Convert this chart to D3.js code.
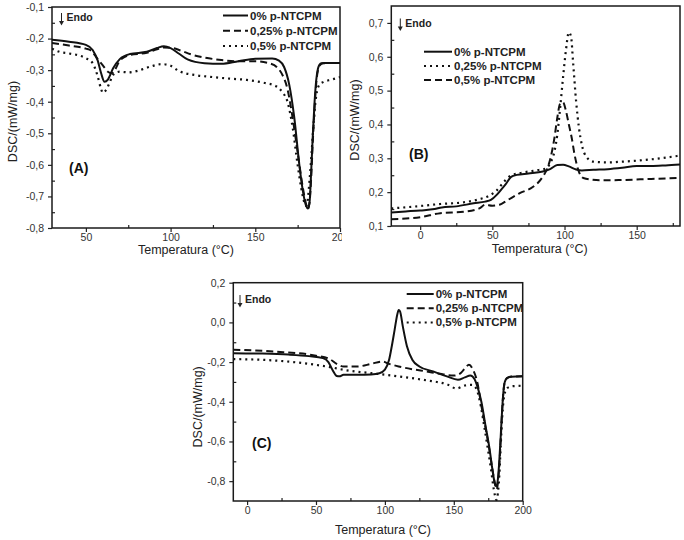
<!DOCTYPE html>
<html>
<head>
<meta charset="utf-8">
<script src="https://cdn.jsdelivr.net/npm/d3@7/dist/d3.min.js"></script>
<style>
  html, body { margin: 0; padding: 0; background: #fff; }
  svg { font-family: "Liberation Sans", Arial, sans-serif; }
  .tick text { fill: #333; font-size: 10.5px; }
  .tick line { stroke: #222; stroke-width: 1.2; }
  .title { fill: #222; font-size: 12.5px; }
  .legend { fill: #222; font-size: 11.5px; font-weight: bold; }
</style>
</head>
<body>
<svg id="chart" width="684" height="540"></svg>
<script>
// ---- Panel A ----
const tempA0 = [30, 40, 50, 54, 57, 59, 61, 63, 66, 70, 76, 86, 92, 96, 100, 105, 110, 120, 130, 140, 150, 160, 164, 167, 170, 173, 176, 178, 180, 181, 182, 183, 184, 185, 186, 187, 188, 189, 191, 200];
const dscA0 = [-0.204, -0.210, -0.220, -0.236, -0.270, -0.310, -0.337, -0.330, -0.295, -0.265, -0.249, -0.242, -0.230, -0.224, -0.230, -0.248, -0.266, -0.278, -0.280, -0.272, -0.264, -0.263, -0.270, -0.290, -0.345, -0.450, -0.600, -0.680, -0.730, -0.738, -0.720, -0.620, -0.500, -0.400, -0.330, -0.295, -0.282, -0.278, -0.277, -0.277];
const tempA25 = [30, 40, 50, 53, 57, 60, 63, 65, 67, 70, 76, 86, 92, 96, 100, 106, 112, 120, 130, 140, 150, 158, 163, 166, 169, 172, 175, 178, 180, 181, 182, 183, 184, 185, 186, 187, 188, 190, 200];
const dscA25 = [-0.214, -0.222, -0.232, -0.238, -0.265, -0.285, -0.305, -0.310, -0.300, -0.270, -0.252, -0.245, -0.234, -0.228, -0.229, -0.238, -0.250, -0.260, -0.268, -0.272, -0.272, -0.278, -0.292, -0.315, -0.360, -0.450, -0.560, -0.670, -0.725, -0.740, -0.720, -0.640, -0.520, -0.420, -0.340, -0.300, -0.285, -0.278, -0.277];
const tempA50 = [30, 35, 40, 50, 54, 57, 59, 60, 62, 64, 66, 70, 75, 80, 88, 95, 100, 105, 115, 125, 135, 145, 155, 162, 166, 169, 172, 175, 177, 179, 180, 181, 182, 183, 184, 185, 186, 188, 190, 195, 200];
const dscA50 = [-0.232, -0.243, -0.247, -0.262, -0.278, -0.320, -0.360, -0.372, -0.362, -0.340, -0.315, -0.305, -0.307, -0.303, -0.289, -0.281, -0.286, -0.303, -0.316, -0.322, -0.327, -0.331, -0.340, -0.350, -0.370, -0.400, -0.480, -0.600, -0.670, -0.720, -0.730, -0.710, -0.650, -0.580, -0.500, -0.430, -0.380, -0.345, -0.338, -0.330, -0.322];

// ---- Panel B ----
const tempB0 = [-20, -10, 0, 10, 15, 25, 37, 45, 49, 53, 56, 59, 63, 67, 75, 85, 90, 95, 99, 103, 108, 112, 120, 130, 140, 150, 160, 170, 180];
const dscB0 = [0.140, 0.143, 0.146, 0.150, 0.155, 0.158, 0.167, 0.172, 0.177, 0.192, 0.207, 0.222, 0.245, 0.251, 0.255, 0.261, 0.268, 0.280, 0.281, 0.276, 0.267, 0.264, 0.266, 0.268, 0.272, 0.277, 0.277, 0.279, 0.282];
const tempB25 = [-20, 0, 14, 30, 40, 48, 53, 57, 62, 71, 80, 87, 90, 93, 95, 97, 99, 101, 103, 104.5, 106, 108, 110, 112, 115, 120, 130, 140, 160, 180];
const dscB25 = [0.152, 0.159, 0.165, 0.170, 0.178, 0.190, 0.205, 0.225, 0.247, 0.258, 0.264, 0.270, 0.285, 0.320, 0.370, 0.450, 0.540, 0.620, 0.672, 0.660, 0.580, 0.470, 0.390, 0.340, 0.305, 0.290, 0.288, 0.290, 0.297, 0.308];
const tempB50 = [-20, 0, 14, 30, 41, 45, 50, 55, 60, 69, 78, 84, 88, 90, 93, 95, 97, 99, 101, 103, 105, 107, 110, 113, 125, 140, 160, 180];
const dscB50 = [0.120, 0.126, 0.138, 0.142, 0.152, 0.163, 0.160, 0.163, 0.175, 0.197, 0.215, 0.240, 0.270, 0.296, 0.360, 0.420, 0.462, 0.465, 0.440, 0.400, 0.360, 0.310, 0.260, 0.242, 0.235, 0.236, 0.239, 0.242];

// ---- Panel C ----
const tempC0 = [-10, 10, 30, 45, 55, 59, 62, 65, 67, 70, 80, 90, 96, 100, 103, 105, 107, 109, 110, 111, 113, 116, 120, 125, 135, 145, 153, 158, 162, 165, 167, 170, 173, 176, 178, 180, 181, 182, 183, 184, 185, 186, 187, 189, 192, 200];
const dscC0 = [-0.155, -0.157, -0.162, -0.170, -0.180, -0.200, -0.240, -0.270, -0.272, -0.264, -0.264, -0.262, -0.256, -0.238, -0.190, -0.120, -0.040, 0.040, 0.063, 0.055, -0.020, -0.120, -0.190, -0.222, -0.247, -0.272, -0.289, -0.277, -0.267, -0.285, -0.320, -0.400, -0.520, -0.640, -0.740, -0.817, -0.825, -0.790, -0.700, -0.580, -0.450, -0.350, -0.300, -0.278, -0.274, -0.272];
const tempC25 = [-10, 20, 50, 60, 65, 70, 80, 90, 98, 103, 110, 120, 130, 140, 150, 155, 158, 161, 164, 167, 170, 173, 176, 178, 180, 181, 182, 183, 184, 185, 186, 187, 189, 192, 200];
const dscC25 = [-0.138, -0.147, -0.168, -0.185, -0.209, -0.222, -0.222, -0.209, -0.197, -0.209, -0.222, -0.236, -0.247, -0.259, -0.268, -0.256, -0.232, -0.214, -0.240, -0.300, -0.420, -0.530, -0.650, -0.740, -0.817, -0.842, -0.810, -0.725, -0.600, -0.457, -0.350, -0.300, -0.280, -0.273, -0.272];
const tempC50 = [-10, 20, 50, 60, 70, 90, 110, 130, 145, 152, 158, 163, 166, 169, 172, 175, 177, 179, 181, 182, 183, 184, 185, 186, 187, 189, 192, 200];
const dscC50 = [-0.185, -0.192, -0.214, -0.225, -0.239, -0.256, -0.272, -0.292, -0.312, -0.333, -0.318, -0.315, -0.330, -0.400, -0.520, -0.650, -0.740, -0.840, -0.895, -0.860, -0.775, -0.630, -0.490, -0.400, -0.356, -0.330, -0.322, -0.319];

// ---- ticks ----
const xMajorA = [50, 100, 150, 200], xMinorA = [75, 125, 175];
const yMajorA = [-0.8, -0.7, -0.6, -0.5, -0.4, -0.3, -0.2, -0.1];
const yMinorA = [-0.75, -0.65, -0.55, -0.45, -0.35, -0.25, -0.15];
const xMajorB = [0, 50, 100, 150], xMinorB = [-25, 25, 75, 125, 175];
const yMajorB = [0.1, 0.2, 0.3, 0.4, 0.5, 0.6, 0.7];
const yMinorB = [0.15, 0.25, 0.35, 0.45, 0.55, 0.65];
const xMajorC = [0, 50, 100, 150, 200], xMinorC = [25, 75, 125, 175];
const yMajorC = [-0.8, -0.6, -0.4, -0.2, 0.0, 0.2];
const yMinorC = [-0.9, -0.7, -0.5, -0.3, -0.1, 0.1];

const label0 = "0% p-NTCPM", label25 = "0,25% p-NTCPM", label50 = "0,5% p-NTCPM";

const dashes = { solid: null, dashed: "7,4", dotted: "2,4" };

const root = d3.select("#chart");
const fmtDec = v => v.toFixed(1).replace(".", ",");

function drawPanel(p) {
    const svg = root.append("svg")
        .attr("x", p.ox).attr("y", p.oy)
        .attr("width", p.w).attr("height", p.h)
        .attr("overflow", "hidden");

    const x = d3.scaleLinear().domain(p.xDomain).range([p.left, p.right]);
    const y = d3.scaleLinear().domain(p.yDomain).range([p.bottom, p.top]);

    svg.append("clipPath").attr("id", p.id + "-clip")
        .append("rect")
        .attr("x", p.left).attr("y", p.top)
        .attr("width", p.right - p.left).attr("height", p.bottom - p.top);

    // axes: major ticks outward with labels, minor ticks inward
    const gx = svg.append("g").attr("transform", `translate(0,${p.bottom})`)
        .call(d3.axisBottom(x).tickValues(p.xMajor).tickSize(4).tickPadding(2).tickFormat(d3.format("d")));
    gx.select(".domain").remove();
    const gxm = svg.append("g").attr("transform", `translate(0,${p.bottom})`)
        .call(d3.axisBottom(x).tickValues(p.xMinor.filter(v => v > p.xDomain[0] && v < p.xDomain[1])).tickSize(-3).tickFormat(""));
    gxm.select(".domain").remove();

    const gy = svg.append("g").attr("transform", `translate(${p.left},0)`)
        .call(d3.axisLeft(y).tickValues(p.yMajor).tickSize(4).tickPadding(4).tickFormat(fmtDec));
    gy.select(".domain").remove();
    const gym = svg.append("g").attr("transform", `translate(${p.left},0)`)
        .call(d3.axisLeft(y).tickValues(p.yMinor.filter(v => v > p.yDomain[0] && v < p.yDomain[1])).tickSize(-3).tickFormat(""));
    gym.select(".domain").remove();

    // frame
    svg.append("rect")
        .attr("x", p.left).attr("y", p.top)
        .attr("width", p.right - p.left).attr("height", p.bottom - p.top)
        .attr("fill", "none").attr("stroke", "#1a1a1a").attr("stroke-width", 1.5);

    // curves
    const line = d3.line().x(d => x(d[0])).y(d => y(d[1])).curve(d3.curveMonotoneX);
    const curves = svg.append("g").attr("clip-path", `url(#${p.id}-clip)`);
    p.series.forEach(s => {
        curves.append("path")
            .datum(d3.zip(s.t, s.v))
            .attr("d", line)
            .attr("fill", "none")
            .attr("stroke", "#111")
            .attr("stroke-width", s.style === "dotted" ? 2.2 : 2)
            .attr("stroke-dasharray", dashes[s.style]);
    });

    // legend
    const lg = svg.append("g");
    p.series.forEach((s, i) => {
        const ly = p.legend.y + i * p.legend.step;
        lg.append("line")
            .attr("x1", p.legend.x).attr("x2", p.legend.x + p.legend.len)
            .attr("y1", ly).attr("y2", ly)
            .attr("stroke", "#111").attr("stroke-width", 2)
            .attr("stroke-dasharray", dashes[s.style]);
        lg.append("text").attr("class", "legend")
            .attr("x", p.legend.x + p.legend.len + 2).attr("y", ly + 4)
            .text(s.label);
    });

    // Endo arrow
    const ex = p.endo.x, ey = p.endo.y;
    svg.append("line").attr("x1", ex).attr("x2", ex).attr("y1", ey).attr("y2", ey + 10)
        .attr("stroke", "#222").attr("stroke-width", 1);
    svg.append("path").attr("d", `M${ex - 2.5},${ey + 8} L${ex + 2.5},${ey + 8} L${ex},${ey + 12.5} Z`).attr("fill", "#222");
    svg.append("text").attr("x", ex + 5).attr("y", ey + 8)
        .attr("font-size", 10.5).attr("font-weight", "bold").attr("fill", "#222").text("Endo");

    // panel letter
    svg.append("text").attr("x", p.letter.x).attr("y", p.letter.y)
        .attr("font-size", 14).attr("font-weight", "bold").attr("fill", "#111").text(p.letter.text);

    // axis titles
    svg.append("text").attr("class", "title")
        .attr("text-anchor", "middle")
        .attr("x", (p.left + p.right) / 2 + p.xTitleDx).attr("y", p.xTitleY)
        .text("Temperatura (°C)");
    svg.append("text").attr("class", "title")
        .attr("text-anchor", "middle")
        .attr("transform", `translate(${p.yTitleX},${(p.top + p.bottom) / 2 + p.yTitleDy}) rotate(-90)`)
        .text("DSC/(mW/mg)");
}

drawPanel({
    id: "A", ox: 0, oy: 0, w: 342, h: 270,
    left: 52, right: 340, top: 7, bottom: 228,
    xDomain: [30, 200], yDomain: [-0.8, -0.1],
    xMajor: xMajorA, xMinor: xMinorA, yMajor: yMajorA, yMinor: yMinorA,
    series: [
        { t: tempA0, v: dscA0, style: "solid", label: label0 },
        { t: tempA25, v: dscA25, style: "dashed", label: label25 },
        { t: tempA50, v: dscA50, style: "dotted", label: label50 }
    ],
    legend: { x: 223, y: 15.5, step: 15.3, len: 25 },
    endo: { x: 61.5, y: 13 },
    letter: { x: 69, y: 173, text: "(A)" },
    xTitleDx: -10, xTitleY: 254,
    yTitleX: 17, yTitleDy: 4
});

drawPanel({
    id: "B", ox: 342, oy: 0, w: 342, h: 270,
    left: 49.3, right: 338, top: 6, bottom: 226,
    xDomain: [-20, 180], yDomain: [0.1, 0.75],
    xMajor: xMajorB, xMinor: xMinorB, yMajor: yMajorB, yMinor: yMinorB,
    series: [
        { t: tempB0, v: dscB0, style: "solid", label: label0 },
        { t: tempB25, v: dscB25, style: "dotted", label: label25 },
        { t: tempB50, v: dscB50, style: "dashed", label: label50 }
    ],
    legend: { x: 82, y: 51.7, step: 14.2, len: 28 },
    endo: { x: 58.3, y: 18.5 },
    letter: { x: 67, y: 159, text: "(B)" },
    xTitleDx: 4, xTitleY: 253,
    yTitleX: 17, yTitleDy: 4
});

drawPanel({
    id: "C", ox: 170, oy: 270, w: 370, h: 270,
    left: 63.3, right: 352.7, top: 12.7, bottom: 231,
    xDomain: [-10, 200], yDomain: [-0.9, 0.2],
    xMajor: xMajorC, xMinor: xMinorC, yMajor: yMajorC, yMinor: yMinorC,
    series: [
        { t: tempC0, v: dscC0, style: "solid", label: label0 },
        { t: tempC25, v: dscC25, style: "dashed", label: label25 },
        { t: tempC50, v: dscC50, style: "dotted", label: label50 }
    ],
    legend: { x: 236.7, y: 24, step: 14.2, len: 27 },
    endo: { x: 70, y: 25 },
    letter: { x: 82, y: 178, text: "(C)" },
    xTitleDx: 5, xTitleY: 264,
    yTitleX: 32, yTitleDy: 15
});
</script>
</body>
</html>
